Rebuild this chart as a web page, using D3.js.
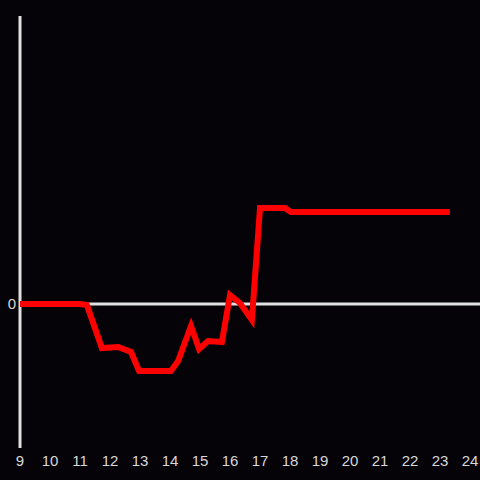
<!DOCTYPE html>
<html>
<head>
<meta charset="utf-8">
<script src="https://cdn.jsdelivr.net/npm/d3@7"></script>
<style>
  html, body { margin: 0; padding: 0; background: #050308; }
  svg { display: block; }
</style>
</head>
<body>
<div id="chart"></div>
<script>
// x positions (hours) and values of the red series
const xs = [9, 11, 11.23, 11.73, 12.27, 12.7, 12.97, 14.03, 14.27, 14.7, 14.97, 15.27, 15.73, 16.0, 16.33, 16.73, 17.0, 17.83, 18.03, 23.33];
const ys = [0, 0, -0.007, -0.306, -0.299, -0.333, -0.465, -0.465, -0.396, -0.153, -0.3125, -0.257, -0.264, 0.0625, 0.007, -0.111, 0.667, 0.667, 0.639, 0.639];
const xTicks = [9, 10, 11, 12, 13, 14, 15, 16, 17, 18, 19, 20, 21, 22, 23, 24];
const yTicks = [0];

const width = 480, height = 480;

const x = d3.scaleLinear().domain([9, 24]).range([20, 470]);
const y = d3.scaleLinear().domain([-1, 2]).range([448, 16]);

const svg = d3.select("#chart").append("svg")
    .attr("width", width)
    .attr("height", height);

svg.append("rect").attr("width", width).attr("height", height).attr("fill", "#050308");

// zero line (x axis)
svg.append("line")
    .attr("x1", x(9)).attr("x2", width)
    .attr("y1", y(0)).attr("y2", y(0))
    .attr("stroke", "#e0e0e0").attr("stroke-width", 3);

// y axis line
svg.append("line")
    .attr("x1", x(9)).attr("x2", x(9))
    .attr("y1", y(2)).attr("y2", y(-1))
    .attr("stroke", "#e0e0e0").attr("stroke-width", 3);

// x tick labels
svg.append("g")
    .selectAll("text")
    .data(xTicks)
    .join("text")
    .attr("x", d => x(d))
    .attr("y", 466)
    .attr("text-anchor", "middle")
    .attr("fill", "#d8d8d8")
    .attr("font-family", "Liberation Sans, Arial, sans-serif")
    .attr("font-size", 15)
    .text(d => d);

// y tick labels
svg.append("g")
    .selectAll("text")
    .data(yTicks)
    .join("text")
    .attr("x", 16)
    .attr("y", d => y(d))
    .attr("dy", "0.35em")
    .attr("text-anchor", "end")
    .attr("fill", "#d8d8d8")
    .attr("font-family", "Liberation Sans, Arial, sans-serif")
    .attr("font-size", 15)
    .text(d => d);

const line = d3.line()
    .x(d => x(d[0]))
    .y(d => y(d[1]));

svg.append("path")
    .datum(d3.zip(xs, ys))
    .attr("fill", "none")
    .attr("stroke", "#ff0000")
    .attr("stroke-width", 6)
    .attr("stroke-linejoin", "miter")
    .attr("d", line);
</script>
</body>
</html>
